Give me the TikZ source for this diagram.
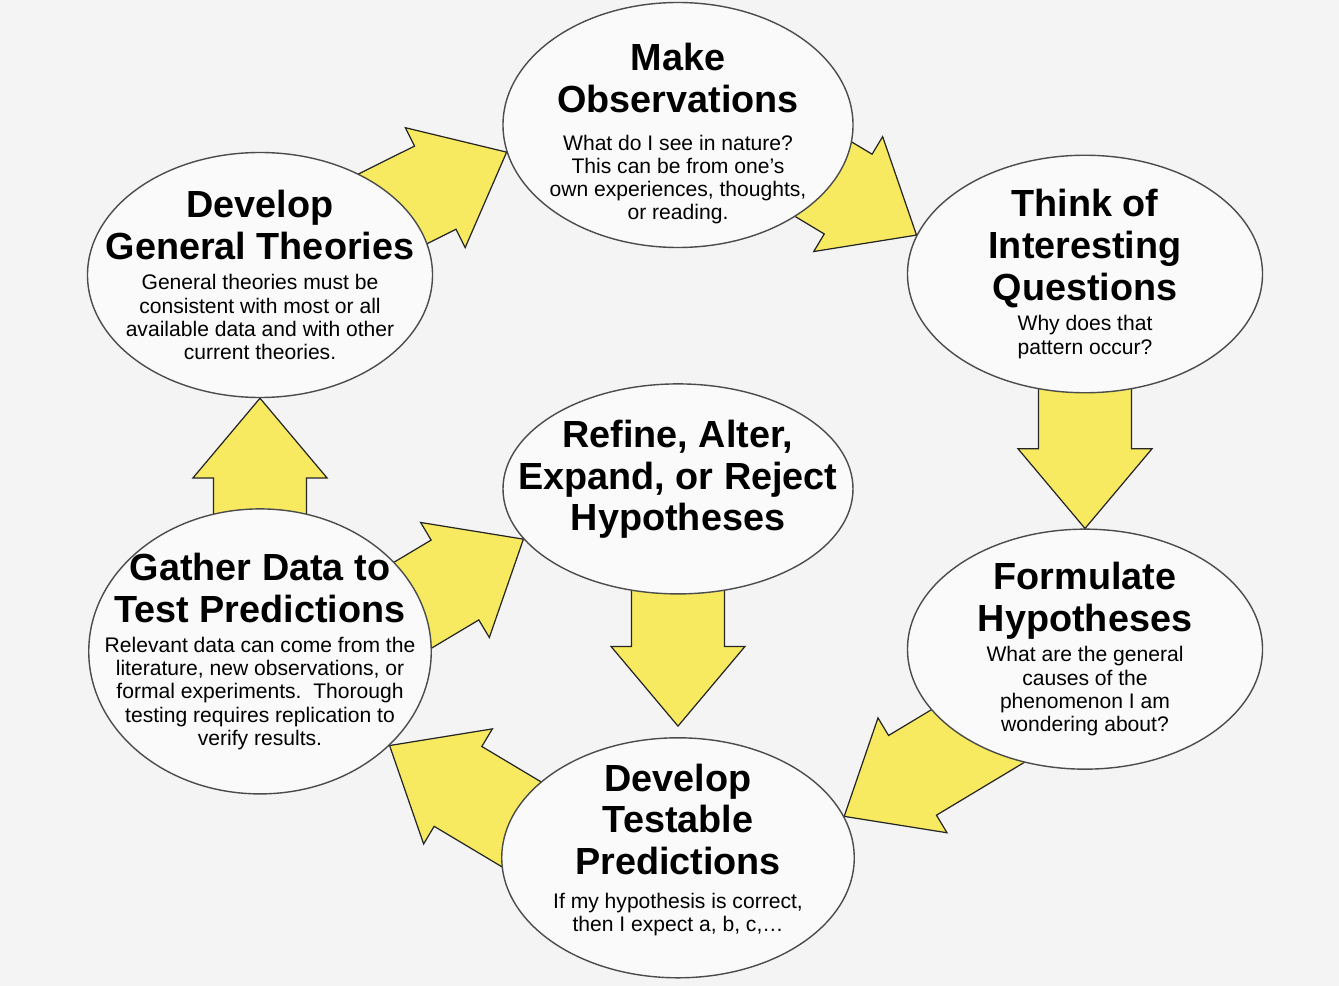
\documentclass[tikz,border=0pt]{standalone}
\usepackage{fontspec}
\setmainfont{Liberation Sans}
\usetikzlibrary{calc, positioning, shapes.geometric}
\definecolor{my_yellow}{RGB}{248, 234, 96}
\definecolor{my_paper}{RGB}{244, 244, 244}
\definecolor{my_bubble}{RGB}{250, 250, 250}
\newcommand{\titlefont}{\fontsize{21.5}{23.8}\selectfont\bfseries}
\newcommand{\notefont}{\fontsize{12}{13.2}\selectfont}
\newcommand{\bubtext}[3][4pt]{\parbox{7cm}{\centering{\titlefont #2\par}\vspace{#1}{\notefont #3\par}}}
\tikzset {
  bubble/.style = {draw=black!70, line width=0.8pt, ellipse, fill=my_bubble, inner sep=-2cm},
  % block arrow: shaft 1.86cm, head 2.68cm wide and 1.6cm long
  bigarrow/.style = {draw=black!85, line width=0.7pt, fill=my_yellow, line join=miter,
    to path={let \p1=(\tikztostart), \p2=(\tikztotarget),
      \n1={atan2(\y2-\y1,\x2-\x1)}, \n2={veclen(\x2-\x1,\y2-\y1)-45.35}
      in ($(\p1)+(\n1+90:0.93cm)$) -- ($(\p1)+(\n1:\n2)+(\n1+90:0.93cm)$)
      -- ($(\p1)+(\n1:\n2)+(\n1+90:1.34cm)$) -- (\p2)
      -- ($(\p1)+(\n1:\n2)+(\n1-90:1.34cm)$) -- ($(\p1)+(\n1:\n2)+(\n1-90:0.93cm)$)
      -- ($(\p1)+(\n1-90:0.93cm)$) -- cycle}}
}
\pgfdeclarelayer{background}
\pgfsetlayers{background,main}

\begin{document}
\begin{tikzpicture}[node distance=2.7cm]
    \node[bubble, name=obs, minimum width=7cm, minimum height=4.9cm] (obs) at (13.56,-2.5)
      {\bubtext[8pt]{\vspace*{10pt}Make\\Observations}{What do I see in nature?\\This can be from one's\\own experiences, thoughts,\\or reading.}};
    \node[bubble, name=refi, minimum width=7cm, minimum height=4.2cm, below=2.7cm of obs] (refi)
      {\parbox{7cm}{\centering\titlefont Refine, Alter,\\Expand, or Reject\\Hypotheses\par\vspace{11pt}}};
    \node[bubble, name=pred, minimum width=7.05cm, minimum height=4.8cm, below=2.85cm of refi] (pred)
      {\bubtext[6pt]{Develop\\Testable\\Predictions}{If my hypothesis is correct,\\then I expect a, b, c,\ldots\par\vspace{9pt}}};
    \node[bubble, name=theo, minimum width=6.9cm, minimum height=4.9cm] (theo) at (5.2,-5.5)
      {\bubtext{Develop\\General Theories}{General theories must be\\consistent with most or all\\available data and with other\\current theories.}};
    \node[bubble, name=gath, minimum width=6.85cm, minimum height=5.7cm, below=2.2cm of theo] (gath)
      {\bubtext{Gather Data to\\Test Predictions}{Relevant data can come from the\\literature, new observations, or\\formal experiments.\ \ Thorough\\testing requires replication to\\verify results.}};
    \node[bubble, name=ques, minimum width=7.1cm, minimum height=4.75cm] (ques) at (21.7,-5.48)
      {\bubtext{Think of\\Interesting\\Questions}{Why does that\\pattern occur?}};
    \node[bubble, name=hyp, minimum width=7.1cm, minimum height=4.8cm, below=2.7cm of ques] (hyp)
      {\bubtext{Formulate\\Hypotheses}{What are the general\\causes of the\\phenomenon I am\\wondering about?}};

    \coordinate (obsout) at ($(obs.center)+(0,0.66)$);
    \coordinate (hypout) at ($(hyp.center)+(0,-0.45)$);
    \coordinate (predout) at ($(pred.center)+(0,-1.2)$);
    \coordinate (gathout) at ($(gath.center)+(0,-0.9)$);
    \coordinate (predin) at ($(pred.north)+(0,0.22)$);

    \begin{pgfonlayer}{background}
      \fill[my_paper] (0,0) rectangle (26.78,-19.72);
      \draw[bigarrow] (theo.center) to (obs.189);
      \draw[bigarrow] (obsout) to (ques.167);
      \draw[bigarrow] (ques.center) to (hyp.north);
      \draw[bigarrow] (hypout) to (pred.14);
      \draw[bigarrow] (predout) to (gath.-36);
      \draw[bigarrow] (gathout) to (refi.198);
      \draw[bigarrow] (gath.center) to (theo.south);
      \draw[bigarrow] (refi.center) to (predin);
    \end{pgfonlayer}
\end{tikzpicture}
\end{document}
